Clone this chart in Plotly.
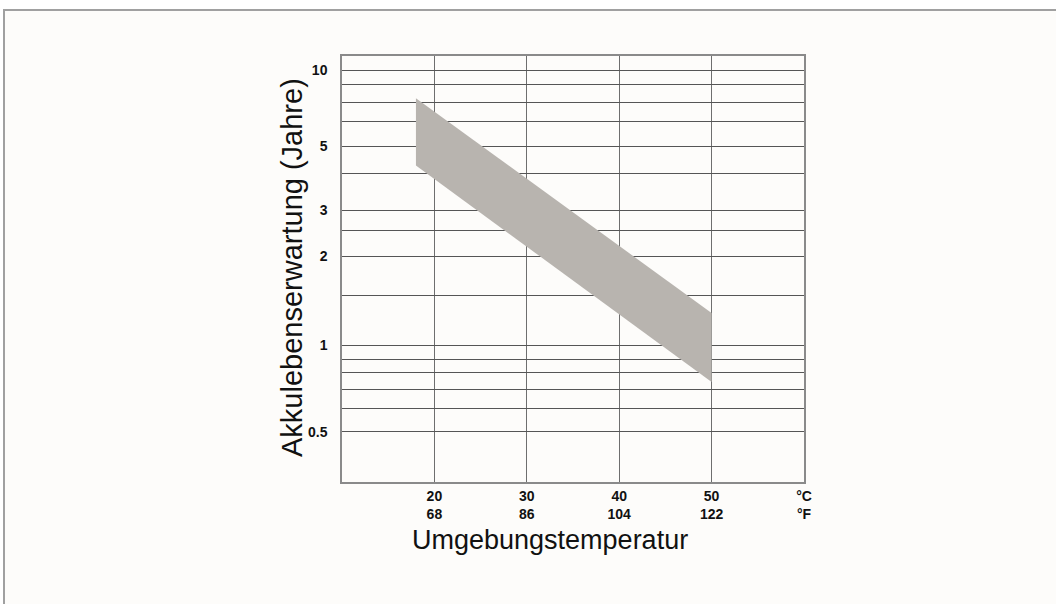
import plotly.graph_objects as go
import math

# --- data ---
temps_c = [18, 50]
life_upper = [7.93, 1.31]
life_lower = [4.51, 0.735]

x_tick_c = [20, 30, 40, 50, 60]
x_tick_f = ["68", "86", "104", "122", "°F"]
x_tick_c_text = ["20", "30", "40", "50", "°C"]

y_grid_vals = [10, 8.87, 7.67, 6.52, 5.30, 4.23, 3.10, 2.62, 2.11, 1.52,
               1, 0.887, 0.793, 0.690, 0.589, 0.484]
y_grid_text = ["10", "", "", "", "5", "", "3", "", "2", "",
               "1", "", "", "", "", "0.5"]
y_range = [0.318, 11.29]
x_range = [10, 60]

L, R, T, B = 342, 804, 56, 482
W, H = 1056, 604
pw, ph = R - L, B - T

def px(x):
    return (x - L) / pw

def py(y):
    return (B - y) / ph

fig = go.Figure()

fig.add_trace(go.Scatter(
    x=[temps_c[0], temps_c[1], temps_c[1], temps_c[0], temps_c[0]],
    y=[life_upper[0], life_upper[1], life_lower[1], life_lower[0], life_upper[0]],
    mode="lines",
    fill="toself",
    fillcolor="#b8b4af",
    line=dict(width=0, color="#b8b4af"),
    hoverinfo="skip",
    showlegend=False,
))

xt = [f"<b>{c}</b><br><b>{f}</b>" for c, f in zip(x_tick_c_text, x_tick_f)]
yt = [f"<b>{t}</b>" if t else "" for t in y_grid_text]

fig.update_layout(
    width=W, height=H,
    margin=dict(l=L, r=W - R, t=T, b=H - B, pad=0),
    paper_bgcolor="white",
    plot_bgcolor="rgba(0,0,0,0)",
    font=dict(family="Liberation Sans, Arial, sans-serif", color="#111111"),
    showlegend=False,
    xaxis=dict(
        range=x_range,
        tickmode="array",
        tickvals=x_tick_c,
        ticktext=xt,
        showgrid=True,
        gridcolor="#6e6e6e",
        gridwidth=1,
        zeroline=False,
        showline=True,
        linecolor="#8a8a8a",
        linewidth=1.5,
        mirror=True,
        ticks="",
        ticklabelstandoff=0,
        tickfont=dict(size=14, color="#111111"),
    ),
    yaxis=dict(
        type="log",
        range=[math.log10(y_range[0]), math.log10(y_range[1])],
        tickmode="array",
        tickvals=y_grid_vals,
        ticktext=yt,
        showgrid=True,
        gridcolor="#555555",
        gridwidth=1,
        zeroline=False,
        showline=True,
        linecolor="#8a8a8a",
        linewidth=1.5,
        mirror=True,
        ticks="",
        ticklabelstandoff=10,
        tickfont=dict(size=14, color="#111111"),
    ),
    shapes=[dict(
        type="rect", xref="paper", yref="paper",
        x0=px(4), x1=px(1070), y0=py(620), y1=py(10),
        line=dict(color="#a0a0a0", width=2),
        fillcolor="#fdfcfa",
        layer="below",
    )],
    annotations=[
        dict(text="Umgebungstemperatur", xref="paper", yref="paper",
             x=px(550), y=py(540), xanchor="center", yanchor="middle",
             showarrow=False, font=dict(size=27, color="#111111")),
        dict(text="Akkulebenserwartung (Jahre)", xref="paper", yref="paper",
             x=px(292), y=py(268), xanchor="center", yanchor="middle",
             textangle=-90, showarrow=False, font=dict(size=29, color="#111111")),
    ],
)

fig.write_html("out.html", config={"displayModeBar": False},
               post_script="document.body.style.margin='0';")
